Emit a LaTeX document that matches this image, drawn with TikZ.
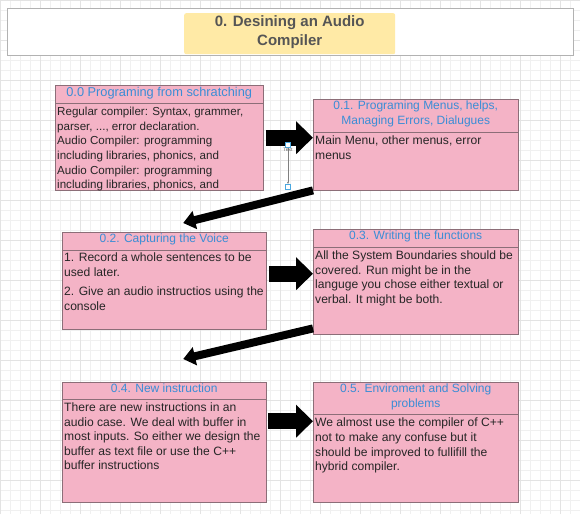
\documentclass[tikz,border=0pt]{standalone}
\usepackage{fontspec}
\setmainfont{Liberation Sans}
\usetikzlibrary{arrows.meta}
\definecolor{cardpink}{HTML}{F4B3C6}
\definecolor{cardline}{HTML}{8C6E78}
\definecolor{headblue}{HTML}{3A8DD6}
\definecolor{titleyellow}{HTML}{FFEAA6}
\definecolor{titlegray}{HTML}{555555}
\definecolor{handleblue}{HTML}{4AA8E0}

\begin{document}
\begin{tikzpicture}[x=1pt,y=-1pt,
  card/.style={draw=cardline,fill=cardpink,anchor=north west,inner sep=0pt},
  head/.style={text=headblue,font=\fontsize{12}{14.6}\selectfont,align=center,anchor=north,inner sep=0pt},
  body/.style={text=black!85,font=\fontsize{12.1}{14.6}\selectfont,align=left,anchor=north west,inner sep=0pt},
  fatarrow/.style={line width=16pt,-{Triangle[length=17pt,width=32pt]}},
  slimarrow/.style={line width=8pt,-{Triangle[length=12pt,width=18pt]}},
  handle/.style={draw=handleblue,fill=white,minimum size=5pt,inner sep=0pt}]
\useasboundingbox (0,0) rectangle (580,514);
\fill[white] (0,0) rectangle (580,514);
\draw[gray!12,step=10pt] (0,0) grid (580,514);
\draw[gray!22,step=40pt] (0,0) grid (580,514);

\node[draw=gray!60,line width=1pt,fill=white,minimum width=566,minimum height=47,anchor=north west] (frame) at (7,8) {};
\node[fill=titleyellow,rounded corners=2pt,minimum width=211,minimum height=41,anchor=north west] (ttl) at (184,13) {};
\node[text=titlegray,font=\fontsize{15}{19}\selectfont\bfseries,align=center] (ttltext) at ([yshift=2pt]ttl.center) {0. Desining an Audio\\Compiler};

\foreach \n/\x/\y/\w/\h/\d in {c0/55/85/208/105/18, c1/313/99/205/91/33, c2/62/232/204/97/18,
  c3/313/229/205/105/18, c4/62/382/204/120/17, c5/313/382/205/120/32}{
  \node[card,minimum width=\w,minimum height=\h] (\n) at (\x,\y) {};
  \draw[cardline] ([yshift=-\d pt]\n.north west) coordinate (\n d) -- ([yshift=-\d pt]\n.north east);
}

\node[head,font=\fontsize{12.8}{14.6}\selectfont] (h0) at ([yshift=-2pt]c0.north) {0.0 Programing from schratching};
\node[head] (h1) at ([yshift=-2pt]c1.north) {0.1. Programing Menus, helps,\\Managing Errors, Dialugues};
\node[head] (h2) at ([yshift=-2pt]c2.north) {0.2. Capturing the Voice};
\node[head] (h3) at ([yshift=-2pt]c3.north) {0.3. Writing the functions};
\node[head] (h4) at ([yshift=-2pt]c4.north) {0.4. New instruction};
\node[head] (h5) at ([yshift=-2pt]c5.north) {0.5. Enviroment and Solving\\problems};

\node[body,font=\fontsize{11.6}{14.6}\selectfont] (b0) at ([shift={(2,4)}]c0d) {Regular compiler: Syntax, grammer,\\parser, ..., error declaration.\\Audio Compiler: programming\\including libraries, phonics, and\\Audio Compiler: programming\\including libraries, phonics, and};
\node[body] (b1) at ([shift={(2,4)}]c1d) {Main Menu, other menus, error\\menus};
\node[body] (b2) at ([shift={(2,3)}]c2d) {1. Record a whole sentences to be\\used later.\\[4.5pt]2. Give an audio instructios using the\\console};
\node[body] (b3) at ([shift={(2,3.5)}]c3d) {All the System Boundaries should be\\covered. Run might be in the\\languge you chose either textual or\\verbal. It might be both.};
\node[body] (b4) at ([shift={(2,3.5)}]c4d) {There are new instructions in an\\audio case. We deal with buffer in\\most inputs. So either we design the\\buffer as text file or use the C++\\buffer instructions};
\node[body] (b5) at ([shift={(2,4)}]c5d) {We almost use the compiler of C++\\not to make any confuse but it\\should be improved to fullifill the\\hybrid compiler.};

\coordinate (a0) at ([xshift=3pt]c0.east);
\coordinate (a2) at ([shift={(3,-7)}]c2.east);
\coordinate (a4) at ([shift={(2,-21)}]c4.east);
\draw[fatarrow] (a0) -- (a0 -| c1.west);
\draw[fatarrow] (a2) -- (a2 -| c3.west);
\draw[fatarrow] (a4) -- (a4 -| c5.west);

\coordinate (s1) at (c1.south west);
\coordinate (e1) at ([shift={(19,-9)}]c2.north);
\coordinate (s3) at ([shift={(0,-6)}]c3.south west);
\coordinate (e3) at ([shift={(19,-23)}]c4.north);
\draw[slimarrow] (s1) -- (e1);
\draw[slimarrow] (s3) -- (e3);

\node[handle] (hd1) at (288,145) {};
\node[handle] (hd2) at (288,187) {};
\draw[gray,-{Latex[length=2.5pt]}] (hd1) -- (hd2);
\node[font=\fontsize{5}{6}\selectfont,text=black!60,inner sep=0pt] (hdt) at (288,150) {Text};
\end{tikzpicture}
\end{document}
